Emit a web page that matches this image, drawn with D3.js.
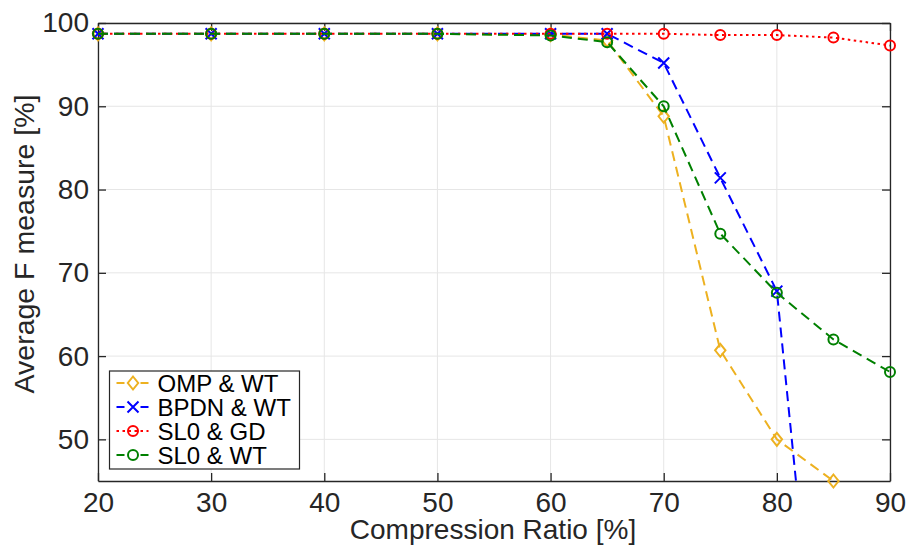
<!DOCTYPE html>
<html>
<head>
<meta charset="utf-8">
<script src="https://cdn.jsdelivr.net/npm/d3@7"></script>
<style>
  html, body { margin: 0; padding: 0; background: #fff; }
  svg { display: block; font-family: "Liberation Sans", Arial, Helvetica, sans-serif; }
</style>
</head>
<body>
<svg id="chart" width="907" height="550"></svg>
<script>
// Compression ratios (x axis) and F-measure results for each method
const ratios = [20, 30, 40, 50, 60, 65, 70, 75, 80, 85, 90];
const ompWT  = [98.7, 98.7, 98.7, 98.7, 98.6, 97.9, 88.8, 60.7, 50.0, 45.0, null];
const bpdnWT = [98.7, 98.7, 98.7, 98.7, 98.7, 98.7, 95.2, 81.4, 67.8, 0.3, 0.0];
const sl0GD  = [98.7, 98.7, 98.7, 98.7, 98.7, 98.7, 98.7, 98.55, 98.55, 98.25, 97.3];
const sl0WT  = [98.7, 98.7, 98.7, 98.7, 98.5, 97.7, 90.0, 74.7, 67.6, 62.0, 58.1];

const seriesNames = ["OMP & WT", "BPDN & WT", "SL0 & GD", "SL0 & WT"];
const xTicks = [20, 30, 40, 50, 60, 70, 80, 90];
const yTicks = [50, 60, 70, 80, 90, 100];

const series = [
  { name: seriesNames[0], values: ompWT,  color: "#EDB120", dash: "10,6", legendDash: "8,16", marker: "diamond" },
  { name: seriesNames[1], values: bpdnWT, color: "#0000FF", dash: "10,6", legendDash: "8,16", marker: "x" },
  { name: seriesNames[2], values: sl0GD,  color: "#FF0000", dash: "2.5,3.5", legendDash: "2.5,3.5", marker: "circle" },
  { name: seriesNames[3], values: sl0WT,  color: "#008000", dash: "10,6", legendDash: "8,16", marker: "circle" }
];

const svg = d3.select("#chart");
const margin = { left: 98, right: 17, top: 23, bottom: 69 };
const W = 907, H = 550;
const x = d3.scaleLinear().domain([20, 90]).range([margin.left, W - margin.right]);
const y = d3.scaleLinear().domain([45, 100]).range([H - margin.bottom, margin.top]);

const axisColor = "#262626";
const x0 = x.range()[0], x1 = x.range()[1], y0 = y.range()[0], y1 = y.range()[1];

svg.append("defs").append("clipPath").attr("id", "plotClip")
  .append("rect").attr("x", x0).attr("y", y1).attr("width", x1 - x0).attr("height", y0 - y1);

// grid
const grid = svg.append("g");
grid.selectAll("line.gx").data(xTicks).join("line")
  .attr("x1", d => x(d)).attr("x2", d => x(d)).attr("y1", y0).attr("y2", y1)
  .attr("stroke", "#e6e6e6").attr("stroke-width", 1);
grid.selectAll("line.gy").data(yTicks).join("line")
  .attr("x1", x0).attr("x2", x1).attr("y1", d => y(d)).attr("y2", d => y(d))
  .attr("stroke", "#e6e6e6").attr("stroke-width", 1);

// axes with inward ticks
const tickLen = 8;
const bottomAxis = d3.axisBottom(x).tickValues(xTicks).tickSizeInner(-tickLen).tickSizeOuter(0).tickPadding(11);
const leftAxis = d3.axisLeft(y).tickValues(yTicks).tickSizeInner(-tickLen).tickSizeOuter(0).tickPadding(9);
const topAxis = d3.axisTop(x).tickValues(xTicks).tickSizeInner(-tickLen).tickSizeOuter(0).tickFormat("");
const rightAxis = d3.axisRight(y).tickValues(yTicks).tickSizeInner(-tickLen).tickSizeOuter(0).tickFormat("");

function styleAxis(g) {
  g.select(".domain").attr("stroke", axisColor).attr("stroke-width", 1.3);
  g.selectAll(".tick line").attr("stroke", axisColor).attr("stroke-width", 1.3);
  g.selectAll(".tick text").attr("fill", axisColor).attr("font-size", 28)
    .attr("font-family", "\"Liberation Sans\", Arial, sans-serif");
}
svg.append("g").attr("transform", `translate(0,${y0})`).call(bottomAxis).call(styleAxis);
svg.append("g").attr("transform", `translate(${x0},0)`).call(leftAxis).call(styleAxis);
svg.append("g").attr("transform", `translate(0,${y1})`).call(topAxis).call(styleAxis);
svg.append("g").attr("transform", `translate(${x1},0)`).call(rightAxis).call(styleAxis);

// axis labels
svg.append("text").attr("x", 493).attr("y", 539).attr("text-anchor", "middle")
  .attr("font-size", 28).attr("fill", axisColor).text("Compression Ratio [%]");
svg.append("text").attr("transform", "translate(34,244) rotate(-90)")
  .attr("text-anchor", "middle").attr("font-size", 28.5).attr("fill", axisColor)
  .text("Average F measure [%]");

// marker drawing
function drawMarker(g, type, cx, cy, color) {
  if (type === "circle") {
    g.append("circle").attr("cx", cx).attr("cy", cy).attr("r", 5)
      .attr("fill", "none").attr("stroke", color).attr("stroke-width", 2);
  } else if (type === "diamond") {
    const s = 6.5;
    g.append("path").attr("d", `M${cx},${cy - s}L${cx + s * 0.8},${cy}L${cx},${cy + s}L${cx - s * 0.8},${cy}Z`)
      .attr("fill", "none").attr("stroke", color).attr("stroke-width", 2);
  } else if (type === "x") {
    const s = 5.5;
    g.append("path").attr("d", `M${cx - s},${cy - s}L${cx + s},${cy + s}M${cx - s},${cy + s}L${cx + s},${cy - s}`)
      .attr("fill", "none").attr("stroke", color).attr("stroke-width", 2);
  }
}

const line = d3.line()
  .defined(d => d.v !== null)
  .x(d => x(d.r)).y(d => y(d.v));

const plot = svg.append("g");
series.forEach(s => {
  const pts = ratios.map((r, i) => ({ r, v: s.values[i] }));
  plot.append("path").datum(pts)
    .attr("clip-path", "url(#plotClip)")
    .attr("d", line)
    .attr("fill", "none").attr("stroke", s.color).attr("stroke-width", 2)
    .attr("stroke-dasharray", s.dash);
  const mg = plot.append("g");
  pts.filter(d => d.v !== null && d.v >= 45 && d.v <= 100)
    .forEach(d => drawMarker(mg, s.marker, x(d.r), y(d.v), s.color));
});

// legend
const lg = svg.append("g");
const lx = 109.5, ly = 371, lw = 190, lh = 98;
lg.append("rect").attr("x", lx).attr("y", ly).attr("width", lw).attr("height", lh)
  .attr("fill", "#fff").attr("stroke", axisColor).attr("stroke-width", 1.2);
series.forEach((s, i) => {
  const cy = ly + 12 + i * 24;
  lg.append("line").attr("x1", lx + 7).attr("x2", lx + 39).attr("y1", cy).attr("y2", cy)
    .attr("stroke", s.color).attr("stroke-width", 2)
    .attr("stroke-dasharray", s.legendDash);
  drawMarker(lg, s.marker, lx + 23.5, cy, s.color);
  lg.append("text").attr("x", lx + 48).attr("y", cy).attr("dy", "0.36em")
    .attr("font-size", 24).attr("fill", "#000").text(s.name);
});
</script>
</body>
</html>
